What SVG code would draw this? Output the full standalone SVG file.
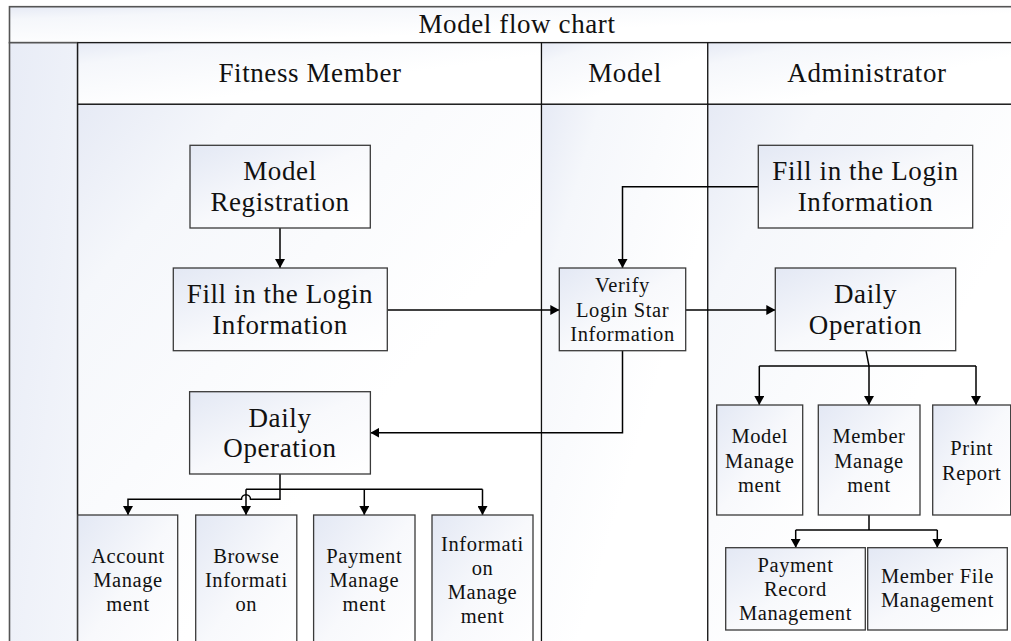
<svg xmlns="http://www.w3.org/2000/svg" width="1011" height="641" viewBox="0 0 1011 641">
<defs>
<linearGradient id="cellg" x1="0" y1="0" x2="1" y2="1">
<stop offset="0" stop-color="#e6eaf5"/>
<stop offset="0.18" stop-color="#f5f7fb"/>
<stop offset="0.6" stop-color="#ffffff"/>
</linearGradient>
<linearGradient id="leftg" x1="0" y1="0" x2="1" y2="1">
<stop offset="0" stop-color="#e8ecf6"/>
<stop offset="1" stop-color="#f4f6fb"/>
</linearGradient>
<linearGradient id="boxg" x1="0" y1="0" x2="1" y2="1">
<stop offset="0" stop-color="#e3e8f4"/>
<stop offset="0.5" stop-color="#f8f9fc"/>
<stop offset="1" stop-color="#ffffff"/>
</linearGradient>
<marker id="arr" viewBox="0 0 9 10" refX="9" refY="5" markerWidth="9" markerHeight="10" markerUnits="userSpaceOnUse" orient="auto">
<path d="M0,0 L9,5 L0,10 z" fill="#000"/>
</marker>
<style>
.frame{fill:url(#cellg);stroke:#555;stroke-width:1.6}
.left{fill:url(#leftg);stroke:#555;stroke-width:1.6}
.lane{fill:url(#cellg);stroke:#111;stroke-width:1.2}
.box{fill:url(#boxg);stroke:#3a3a3a;stroke-width:1.3}
.big{font-family:"Liberation Serif","Times New Roman",serif;font-size:27px;letter-spacing:0.6px;fill:#111;text-anchor:middle}
.sm{font-family:"Liberation Serif","Times New Roman",serif;font-size:20.5px;letter-spacing:0.6px;fill:#111;text-anchor:middle}
.con{fill:none;stroke:#000;stroke-width:1.5}
.arw{marker-end:url(#arr)}
</style>
</defs>
<rect width="1011" height="641" fill="#ffffff"/>
<g id="pool">
<rect class="frame" x="9.5" y="6.7" width="1010" height="36"/>
<rect class="left" x="9.5" y="42.7" width="68" height="610"/>
<rect class="lane" x="77.7" y="42.7" width="463.8" height="61.6"/>
<rect class="lane" x="541.5" y="42.7" width="166.3" height="61.6"/>
<rect class="lane" x="707.8" y="42.7" width="312" height="61.6"/>
<rect class="lane" x="77.7" y="104.3" width="463.8" height="550"/>
<rect class="lane" x="541.5" y="104.3" width="166.3" height="550"/>
<rect class="lane" x="707.8" y="104.3" width="312" height="550"/>
<text class="big" x="517" y="33">Model flow chart</text>
<text class="big" x="310" y="82">Fitness Member</text>
<text class="big" x="625" y="82">Model</text>
<text class="big" x="867" y="82">Administrator</text>
</g>
<g id="connectors">
<path class="con arw" d="M280,228 V268"/>
<path class="con arw" d="M387.3,310 H559.3"/>
<path class="con arw" d="M758.3,186.7 H622.5 V268"/>
<path class="con arw" d="M685.7,310 H775.3"/>
<path class="con arw" d="M622.5,350.7 V432.7 H370.4"/>
<path class="con arw" d="M280,474 V499.3 H250.5 A4.5,4.5 0 0 0 241.5,499.3 H128 V515"/>
<path class="con" d="M246,489.3 H482.5"/>
<path class="con arw" d="M246,489.3 V515"/>
<path class="con arw" d="M364.3,489.3 V515"/>
<path class="con arw" d="M482.5,489.3 V515"/>
<path class="con arw" d="M866,350.7 L869,366 V405"/>
<path class="con" d="M759.3,366 H976"/>
<path class="con arw" d="M759.3,366 V405"/>
<path class="con arw" d="M976,366 V405"/>
<path class="con" d="M869,515 V530"/>
<path class="con" d="M795.7,530 H937.3"/>
<path class="con arw" d="M795.7,530 V547.7"/>
<path class="con arw" d="M937.3,530 V547.7"/>
</g>
<g id="model-registration">
<rect class="box" x="190" y="145.3" width="180.3" height="82.7"/>
<text class="big" x="280" y="180">Model</text>
<text class="big" x="280" y="211">Registration</text>
</g>
<g id="member-login">
<rect class="box" x="173.3" y="268" width="214" height="82.7"/>
<text class="big" x="280" y="303">Fill in the Login</text>
<text class="big" x="280" y="334">Information</text>
</g>
<g id="verify">
<rect class="box" x="559.3" y="268" width="126.4" height="82.7"/>
<text class="sm" x="622.5" y="292">Verify</text>
<text class="sm" x="622.5" y="316.7">Login Star</text>
<text class="sm" x="622.5" y="341.4">Information</text>
</g>
<g id="admin-login">
<rect class="box" x="758.3" y="145.3" width="214.4" height="82.7"/>
<text class="big" x="865.5" y="179.5">Fill in the Login</text>
<text class="big" x="865.5" y="210.5">Information</text>
</g>
<g id="admin-daily">
<rect class="box" x="775.3" y="268" width="180.4" height="82.7"/>
<text class="big" x="865.5" y="303">Daily</text>
<text class="big" x="865.5" y="334">Operation</text>
</g>
<g id="member-daily">
<rect class="box" x="189.6" y="391.7" width="180.8" height="82.3"/>
<text class="big" x="280" y="426.7">Daily</text>
<text class="big" x="280" y="456.7">Operation</text>
</g>
<g id="account-mgmt">
<rect class="box" x="77.7" y="515" width="100" height="140"/>
<text class="sm" x="128" y="563">Account</text>
<text class="sm" x="128" y="587">Manage</text>
<text class="sm" x="128" y="611">ment</text>
</g>
<g id="browse-info">
<rect class="box" x="195.7" y="515" width="101.1" height="140"/>
<text class="sm" x="246.3" y="563">Browse</text>
<text class="sm" x="246.3" y="587">Informati</text>
<text class="sm" x="246.3" y="611">on</text>
</g>
<g id="payment-mgmt">
<rect class="box" x="313.6" y="515" width="101.4" height="140"/>
<text class="sm" x="364.3" y="563">Payment</text>
<text class="sm" x="364.3" y="587">Manage</text>
<text class="sm" x="364.3" y="611">ment</text>
</g>
<g id="info-mgmt">
<rect class="box" x="432" y="515" width="101" height="140"/>
<text class="sm" x="482.5" y="551">Informati</text>
<text class="sm" x="482.5" y="575">on</text>
<text class="sm" x="482.5" y="599">Manage</text>
<text class="sm" x="482.5" y="623">ment</text>
</g>
<g id="model-mgmt">
<rect class="box" x="716.7" y="405" width="86" height="110"/>
<text class="sm" x="759.7" y="443.3">Model</text>
<text class="sm" x="759.7" y="467.5">Manage</text>
<text class="sm" x="759.7" y="491.7">ment</text>
</g>
<g id="member-mgmt">
<rect class="box" x="818.3" y="405" width="101.7" height="110"/>
<text class="sm" x="869" y="443.3">Member</text>
<text class="sm" x="869" y="467.5">Manage</text>
<text class="sm" x="869" y="491.7">ment</text>
</g>
<g id="print-report">
<rect class="box" x="932.7" y="405" width="78" height="110"/>
<text class="sm" x="971.7" y="455">Print</text>
<text class="sm" x="971.7" y="479.5">Report</text>
</g>
<g id="payment-record">
<rect class="box" x="725.7" y="547.7" width="139.6" height="82.3"/>
<text class="sm" x="795.5" y="571.7">Payment</text>
<text class="sm" x="795.5" y="596">Record</text>
<text class="sm" x="795.5" y="620">Management</text>
</g>
<g id="member-file">
<rect class="box" x="867.7" y="547.7" width="139.6" height="82.3"/>
<text class="sm" x="937.5" y="583.3">Member File</text>
<text class="sm" x="937.5" y="606.7">Management</text>
</g>
</svg>
